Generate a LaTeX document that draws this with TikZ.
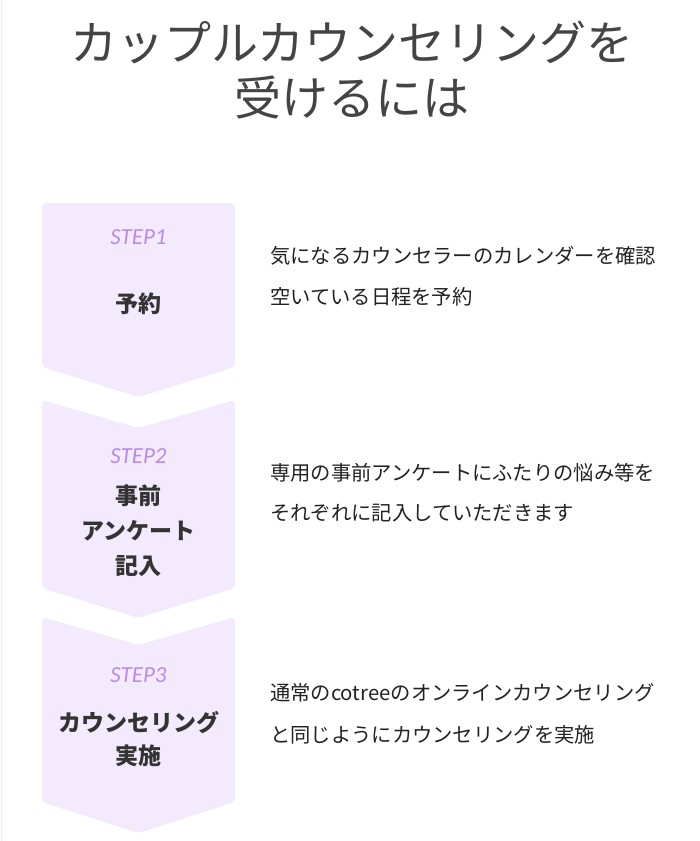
\documentclass[tikz,border=0pt]{standalone}
\usepackage{fontspec}
\setmainfont{Noto Sans CJK JP}
\newfontfamily\stepfont{Carlito}
\definecolor{boxfill}{HTML}{F3EAFE}
\definecolor{steppurple}{HTML}{B88CE6}
\definecolor{titlegray}{HTML}{444444}
\definecolor{labelgray}{HTML}{333333}
\definecolor{bodytext}{HTML}{222222}
\definecolor{edgegray}{HTML}{EEEEEE}
\begin{document}
\begin{tikzpicture}[x=1pt,y=-1pt,
  chevron/.style={fill=boxfill, draw=none, rounded corners=4pt},
  titletext/.style={anchor=base, inner sep=0pt, text=titlegray, font=\fontsize{47}{47}\selectfont},
  steptext/.style={anchor=base, inner sep=0pt, text=steppurple, font=\stepfont\itshape\fontsize{23}{23}\selectfont},
  labeltext/.style={anchor=base, inner sep=0pt, text=labelgray, font=\bfseries\fontsize{23}{23}\selectfont},
  bodyline/.style={anchor=base west, inner sep=0pt, text=bodytext, font=\fontsize{20.3}{20.3}\selectfont}]
\useasboundingbox (0,0) rectangle (700,841);
\fill[white] (0,0) rectangle (700,841);
\draw[edgegray, line width=1pt] (1.5,0) -- (1.5,841);

% title
\node[titletext] (title1) at (352,60.5) {カップルカウンセリングを};
\node[titletext] (title2) at (352,115.5) {受けるには};

% chevrons
\path[chevron] (42,203) -- (235,203) -- (235,367) -- (138.5,397) -- (42,367) -- cycle;
\path[chevron] (42,400) -- (138.5,428) -- (235,400) -- (235,588) -- (138.5,618) -- (42,588) -- cycle;
\path[chevron] (42,617) -- (138.5,645) -- (235,617) -- (235,802) -- (138.5,833) -- (42,802) -- cycle;

% step 1
\node[steptext] (s1) at (138.5,244.5) {STEP1};
\node[labeltext] (l1) at (138.5,312.7) {予約};
\node[bodyline] (b1a) at (270,263) {気になるカウンセラーのカレンダーを確認};
\node[bodyline] (b1b) at (270,304) {空いている日程を予約};

% step 2
\node[steptext] (s2) at (138.5,463.5) {STEP2};
\node[labeltext] (l2a) at (138.5,504.7) {事前};
\node[labeltext] (l2b) at (138.5,539.7) {アンケート};
\node[labeltext] (l2c) at (138.5,574.7) {記入};
\node[bodyline] (b2a) at (270,480.6) {専用の事前アンケートにふたりの悩み等を};
\node[bodyline] (b2b) at (270,520) {それぞれに記入していただきます};

% step 3
\node[steptext] (s3) at (138.5,682.5) {STEP3};
\node[labeltext] (l3a) at (138.5,731.7) {カウンセリング};
\node[labeltext] (l3b) at (138.5,764.7) {実施};
\node[bodyline] (b3a) at (270,700.6) {通常のcotreeのオンラインカウンセリング};
\node[bodyline] (b3b) at (270,742.6) {と同じようにカウンセリングを実施};
\end{tikzpicture}
\end{document}
